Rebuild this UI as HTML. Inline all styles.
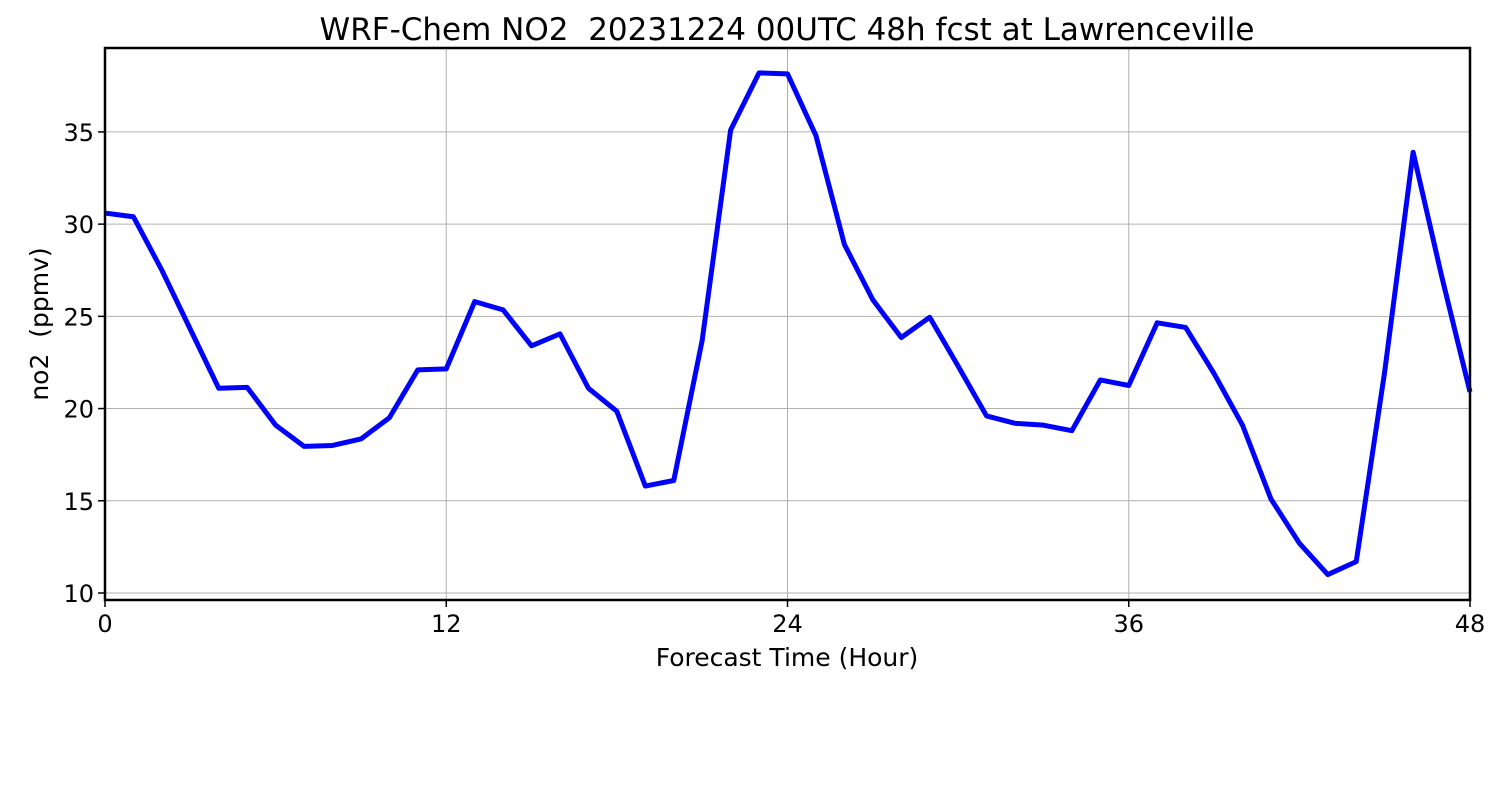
<!DOCTYPE html>
<html><head><meta charset="utf-8"><style>body{margin:0;background:#fff}svg{display:block}text{font-family:"DejaVu Sans","Liberation Sans",sans-serif;fill:#000}</style></head>
<body>
<svg id="chart" width="1500" height="800" xmlns="http://www.w3.org/2000/svg"></svg>
<script>
const hours=[0,1,2,3,4,5,6,7,8,9,10,11,12,13,14,15,16,17,18,19,20,21,22,23,24,25,26,27,28,29,30,31,32,33,34,35,36,37,38,39,40,41,42,43,44,45,46,47,48];
const no2=[30.6,30.4,27.5,24.3,21.1,21.15,19.1,17.95,18.0,18.35,19.5,22.1,22.15,25.8,25.35,23.4,24.05,21.1,19.85,15.8,16.1,23.7,35.1,38.2,38.15,34.8,28.9,25.9,23.85,24.95,22.3,19.6,19.2,19.1,18.8,21.55,21.25,24.65,24.4,21.9,19.1,15.1,12.7,11.0,11.7,22.0,33.9,27.2,20.9];
const xTicks=[0,12,24,36,48];
const yTicks=[10,15,20,25,30,35];
const L=105,R=1470,T=48,B=600;
const xMin=0,xMax=48,yMin=9.62,yMax=39.55;
const sx=v=>L+(v-xMin)/(xMax-xMin)*(R-L);
const sy=v=>B-(v-yMin)/(yMax-yMin)*(B-T);
const svg=document.getElementById('chart');
const NS='http://www.w3.org/2000/svg';
function mk(tag,attrs,parent){const e=document.createElementNS(NS,tag);for(const k in attrs)e.setAttribute(k,attrs[k]);(parent||svg).appendChild(e);return e;}
const grid=mk('g',{});


xTicks.forEach(t=>{const x=sx(t);
 const g=mk('line',{x1:x,x2:x,y1:T,y2:B,stroke:'#b0b0b0','stroke-width':1},grid);
 
 const tk=mk('line',{x1:x,x2:x,y1:B,y2:B+7,stroke:'#000','stroke-width':1.5});
 
 const lb=mk('text',{x:x,y:B+32,'font-size':24,'text-anchor':'middle'});lb.textContent=t;
 
});
yTicks.forEach(t=>{const y=sy(t);
 const g=mk('line',{x1:L,x2:R,y1:y,y2:y,stroke:'#b0b0b0','stroke-width':1},grid);
 
 const tk=mk('line',{x1:L-7,x2:L,y1:y,y2:y,stroke:'#000','stroke-width':1.5});
 
 const lb=mk('text',{x:L-11,y:y+9,'font-size':24,'text-anchor':'end'});lb.textContent=t;
 
});
const line=mk('polyline',{points:hours.map((h,i)=>sx(h)+','+sy(no2[i])).join(' '),fill:'none',stroke:'#0000ff','stroke-width':5,'stroke-linejoin':'round'});


const frame=mk('rect',{x:L,y:T,width:R-L,height:B-T,fill:'none',stroke:'#000','stroke-width':2.5});


const title=mk('text',{x:787,y:40,'font-size':31,'text-anchor':'middle'});
title.textContent='WRF-Chem NO2  20231224 00UTC 48h fcst at Lawrenceville';
title.setAttribute('xml:space','preserve');title.style.whiteSpace='pre';


const xl=mk('text',{x:787,y:666,'font-size':25,'text-anchor':'middle'});
xl.textContent='Forecast Time (Hour)';


const yl=mk('text',{x:0,y:0,'font-size':25,'text-anchor':'middle',transform:'translate(48,324) rotate(-90)'});
yl.textContent='no2  (ppmv)';yl.style.whiteSpace='pre';


</script>
</body></html>
